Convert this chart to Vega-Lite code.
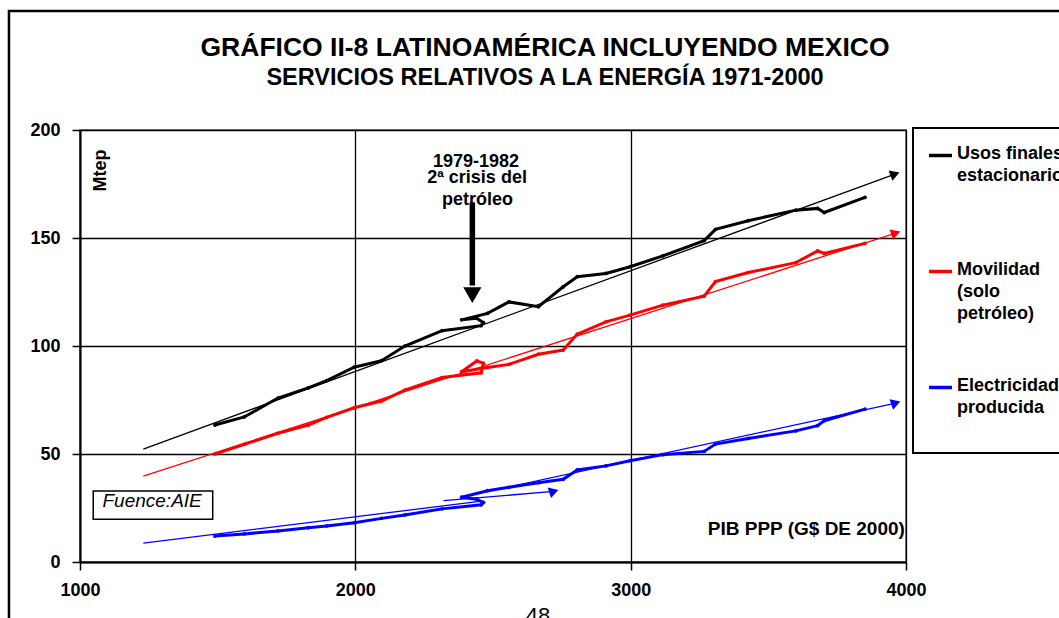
{
  "$schema": "https://vega.github.io/schema/vega-lite/v6.json",
  "width": 826,
  "height": 432,
  "autosize": {"type": "none"},
  "padding": {"left": 80, "top": 130, "right": 153, "bottom": 56},
  "background": "white",
  "title": {
    "text": "GRÁFICO II-8  LATINOAMÉRICA INCLUYENDO  MEXICO",
    "subtitle": "SERVICIOS RELATIVOS A LA ENERGÍA 1971-2000",
    "font": "Liberation Sans",
    "fontSize": 26.5,
    "fontWeight": "bold",
    "color": "black",
    "subtitleFont": "Liberation Sans",
    "subtitleFontSize": 23.5,
    "subtitleFontWeight": "bold",
    "subtitleColor": "black",
    "subtitlePadding": 5,
    "anchor": "middle",
    "dx": 52,
    "offset": -80
  },
  "config": {
    "font": "Liberation Sans",
    "view": {"stroke": "#808080", "strokeWidth": 2},
    "axis": {
      "labelFont": "Liberation Sans",
      "labelFontSize": 18,
      "labelFontWeight": "bold",
      "labelColor": "black",
      "labelFlush": false,
      "domainColor": "black",
      "domainWidth": 2,
      "tickColor": "black",
      "tickWidth": 1.5,
      "tickSize": 8,
      "gridColor": "black",
      "gridWidth": 1.3,
      "gridOpacity": 1
    }
  },
  "datasets": {
    "series": [
      {"s": "Usos finales estacionarios", "i": 1, "gdp": 1490, "mtep": 63.4},
      {"s": "Usos finales estacionarios", "i": 2, "gdp": 1597, "mtep": 67.2},
      {"s": "Usos finales estacionarios", "i": 3, "gdp": 1719, "mtep": 75.9},
      {"s": "Usos finales estacionarios", "i": 4, "gdp": 1829, "mtep": 80.6},
      {"s": "Usos finales estacionarios", "i": 5, "gdp": 1896, "mtep": 84.0},
      {"s": "Usos finales estacionarios", "i": 6, "gdp": 1996, "mtep": 90.2},
      {"s": "Usos finales estacionarios", "i": 7, "gdp": 2095, "mtep": 93.2},
      {"s": "Usos finales estacionarios", "i": 8, "gdp": 2180, "mtep": 100.0},
      {"s": "Usos finales estacionarios", "i": 9, "gdp": 2315, "mtep": 107.1},
      {"s": "Usos finales estacionarios", "i": 10, "gdp": 2457, "mtep": 109.4},
      {"s": "Usos finales estacionarios", "i": 11, "gdp": 2465, "mtep": 110.8},
      {"s": "Usos finales estacionarios", "i": 12, "gdp": 2441, "mtep": 112.8},
      {"s": "Usos finales estacionarios", "i": 13, "gdp": 2386, "mtep": 112.1},
      {"s": "Usos finales estacionarios", "i": 14, "gdp": 2480, "mtep": 115.1},
      {"s": "Usos finales estacionarios", "i": 15, "gdp": 2558, "mtep": 120.4},
      {"s": "Usos finales estacionarios", "i": 16, "gdp": 2665, "mtep": 118.2},
      {"s": "Usos finales estacionarios", "i": 17, "gdp": 2755, "mtep": 127.4},
      {"s": "Usos finales estacionarios", "i": 18, "gdp": 2806, "mtep": 132.1},
      {"s": "Usos finales estacionarios", "i": 19, "gdp": 2910, "mtep": 133.6},
      {"s": "Usos finales estacionarios", "i": 20, "gdp": 2998, "mtep": 136.7},
      {"s": "Usos finales estacionarios", "i": 21, "gdp": 3117, "mtep": 141.7},
      {"s": "Usos finales estacionarios", "i": 22, "gdp": 3267, "mtep": 148.8},
      {"s": "Usos finales estacionarios", "i": 23, "gdp": 3308, "mtep": 154.0},
      {"s": "Usos finales estacionarios", "i": 24, "gdp": 3427, "mtep": 158.0},
      {"s": "Usos finales estacionarios", "i": 25, "gdp": 3600, "mtep": 162.9},
      {"s": "Usos finales estacionarios", "i": 26, "gdp": 3679, "mtep": 163.7},
      {"s": "Usos finales estacionarios", "i": 27, "gdp": 3703, "mtep": 161.8},
      {"s": "Usos finales estacionarios", "i": 28, "gdp": 3851, "mtep": 168.8},
      {"s": "Movilidad (solo petróleo)", "i": 1, "gdp": 1490, "mtep": 50.0},
      {"s": "Movilidad (solo petróleo)", "i": 2, "gdp": 1597, "mtep": 54.5},
      {"s": "Movilidad (solo petróleo)", "i": 3, "gdp": 1719, "mtep": 59.6},
      {"s": "Movilidad (solo petróleo)", "i": 4, "gdp": 1829, "mtep": 63.4},
      {"s": "Movilidad (solo petróleo)", "i": 5, "gdp": 1896, "mtep": 67.0},
      {"s": "Movilidad (solo petróleo)", "i": 6, "gdp": 1996, "mtep": 71.4},
      {"s": "Movilidad (solo petróleo)", "i": 7, "gdp": 2095, "mtep": 74.5},
      {"s": "Movilidad (solo petróleo)", "i": 8, "gdp": 2180, "mtep": 79.6},
      {"s": "Movilidad (solo petróleo)", "i": 9, "gdp": 2315, "mtep": 85.4},
      {"s": "Movilidad (solo petróleo)", "i": 10, "gdp": 2457, "mtep": 87.6},
      {"s": "Movilidad (solo petróleo)", "i": 11, "gdp": 2465, "mtep": 92.0},
      {"s": "Movilidad (solo petróleo)", "i": 12, "gdp": 2441, "mtep": 93.1},
      {"s": "Movilidad (solo petróleo)", "i": 13, "gdp": 2386, "mtep": 88.1},
      {"s": "Movilidad (solo petróleo)", "i": 14, "gdp": 2480, "mtep": 90.0},
      {"s": "Movilidad (solo petróleo)", "i": 15, "gdp": 2558, "mtep": 91.5},
      {"s": "Movilidad (solo petróleo)", "i": 16, "gdp": 2665, "mtep": 96.2},
      {"s": "Movilidad (solo petróleo)", "i": 17, "gdp": 2755, "mtep": 98.1},
      {"s": "Movilidad (solo petróleo)", "i": 18, "gdp": 2806, "mtep": 105.5},
      {"s": "Movilidad (solo petróleo)", "i": 19, "gdp": 2910, "mtep": 111.2},
      {"s": "Movilidad (solo petróleo)", "i": 20, "gdp": 2998, "mtep": 114.3},
      {"s": "Movilidad (solo petróleo)", "i": 21, "gdp": 3117, "mtep": 118.9},
      {"s": "Movilidad (solo petróleo)", "i": 22, "gdp": 3267, "mtep": 123.1},
      {"s": "Movilidad (solo petróleo)", "i": 23, "gdp": 3308, "mtep": 129.8},
      {"s": "Movilidad (solo petróleo)", "i": 24, "gdp": 3427, "mtep": 134.0},
      {"s": "Movilidad (solo petróleo)", "i": 25, "gdp": 3600, "mtep": 138.6},
      {"s": "Movilidad (solo petróleo)", "i": 26, "gdp": 3679, "mtep": 144.0},
      {"s": "Movilidad (solo petróleo)", "i": 27, "gdp": 3703, "mtep": 142.9},
      {"s": "Movilidad (solo petróleo)", "i": 28, "gdp": 3851, "mtep": 147.5},
      {"s": "Electricidad producida", "i": 1, "gdp": 1490, "mtep": 12.0},
      {"s": "Electricidad producida", "i": 2, "gdp": 1597, "mtep": 13.0},
      {"s": "Electricidad producida", "i": 3, "gdp": 1719, "mtep": 14.4},
      {"s": "Electricidad producida", "i": 4, "gdp": 1829, "mtep": 15.9},
      {"s": "Electricidad producida", "i": 5, "gdp": 1896, "mtep": 16.7},
      {"s": "Electricidad producida", "i": 6, "gdp": 1996, "mtep": 18.2},
      {"s": "Electricidad producida", "i": 7, "gdp": 2095, "mtep": 20.2},
      {"s": "Electricidad producida", "i": 8, "gdp": 2180, "mtep": 21.8},
      {"s": "Electricidad producida", "i": 9, "gdp": 2315, "mtep": 24.6},
      {"s": "Electricidad producida", "i": 10, "gdp": 2457, "mtep": 26.5},
      {"s": "Electricidad producida", "i": 11, "gdp": 2465, "mtep": 27.5},
      {"s": "Electricidad producida", "i": 12, "gdp": 2441, "mtep": 29.1},
      {"s": "Electricidad producida", "i": 13, "gdp": 2386, "mtep": 30.0},
      {"s": "Electricidad producida", "i": 14, "gdp": 2480, "mtep": 33.0},
      {"s": "Electricidad producida", "i": 15, "gdp": 2558, "mtep": 34.6},
      {"s": "Electricidad producida", "i": 16, "gdp": 2665, "mtep": 36.7},
      {"s": "Electricidad producida", "i": 17, "gdp": 2755, "mtep": 38.3},
      {"s": "Electricidad producida", "i": 18, "gdp": 2806, "mtep": 42.6},
      {"s": "Electricidad producida", "i": 19, "gdp": 2910, "mtep": 44.5},
      {"s": "Electricidad producida", "i": 20, "gdp": 2998, "mtep": 46.9},
      {"s": "Electricidad producida", "i": 21, "gdp": 3117, "mtep": 49.7},
      {"s": "Electricidad producida", "i": 22, "gdp": 3267, "mtep": 51.2},
      {"s": "Electricidad producida", "i": 23, "gdp": 3308, "mtep": 54.6},
      {"s": "Electricidad producida", "i": 24, "gdp": 3427, "mtep": 57.2},
      {"s": "Electricidad producida", "i": 25, "gdp": 3600, "mtep": 60.7},
      {"s": "Electricidad producida", "i": 26, "gdp": 3679, "mtep": 63.1},
      {"s": "Electricidad producida", "i": 27, "gdp": 3703, "mtep": 65.4},
      {"s": "Electricidad producida", "i": 28, "gdp": 3851, "mtep": 70.8}
    ],
    "trends": [
      {"s": "Usos finales estacionarios", "seg": "k", "pos": "start", "gdp": 1230, "mtep": 52.3},
      {"s": "Usos finales estacionarios", "seg": "k", "pos": "end", "gdp": 3960, "mtep": 179.6},
      {"s": "Movilidad (solo petróleo)", "seg": "r", "pos": "start", "gdp": 1230, "mtep": 39.8},
      {"s": "Movilidad (solo petróleo)", "seg": "r", "pos": "end", "gdp": 3963, "mtep": 152.3},
      {"s": "Electricidad producida", "seg": "b", "pos": "start", "gdp": 2386, "mtep": 30.0},
      {"s": "Electricidad producida", "seg": "b", "pos": "end", "gdp": 3963, "mtep": 73.6},
      {"s": "Electricidad producida", "seg": "b1", "pos": "start", "gdp": 1230, "mtep": 8.7},
      {"s": "Electricidad producida", "seg": "b1", "pos": "stop", "gdp": 2465, "mtep": 28.3},
      {"s": "Electricidad producida", "seg": "b2", "pos": "start", "gdp": 2320, "mtep": 28.4},
      {"s": "Electricidad producida", "seg": "b2", "pos": "end", "gdp": 2721, "mtep": 32.7}
    ]
  },
  "encoding": {
    "x": {
      "field": "gdp",
      "type": "quantitative",
      "scale": {"domain": [1000, 4000], "nice": false, "zero": false},
      "axis": {"values": [1000, 2000, 3000, 4000], "title": null, "labelPadding": 11, "format": "d"}
    },
    "y": {
      "field": "mtep",
      "type": "quantitative",
      "scale": {"domain": [0, 200], "nice": false, "zero": false},
      "axis": {
        "values": [0, 50, 100, 150, 200],
        "title": "Mtep",
        "titleFont": "Liberation Sans",
        "titleFontSize": 18,
        "titleFontWeight": "bold",
        "titleColor": "black",
        "titleAngle": -90,
        "titleX": 25,
        "titleY": 40,
        "titleAlign": "center",
        "titleBaseline": "alphabetic",
        "labelPadding": 12
      }
    },
    "color": {
      "field": "s",
      "type": "nominal",
      "scale": {"domain": ["Usos finales estacionarios", "Movilidad (solo petróleo)", "Electricidad producida"], "range": ["#000000", "#ff0000", "#0000ff"]},
      "legend": {
        "orient": "none",
        "legendX": 833,
        "legendY": -2,
        "title": null,
        "strokeColor": "black",
        "fillColor": "white",
        "padding": 14,
        "symbolType": "stroke",
        "symbolSize": 529,
        "symbolStrokeWidth": 3.5,
        "labelFont": "Liberation Sans",
        "labelFontSize": 18,
        "labelFontWeight": "bold",
        "labelColor": "black",
        "labelBaseline": "alphabetic",
        "labelOffset": 3,
        "labelLimit": 400,
        "rowPadding": 51,
        "labelExpr": "datum.label == 'Usos finales estacionarios' ? ['Usos finales', 'estacionarios', ''] : datum.label == 'Movilidad (solo petróleo)' ? ['Movilidad', '(solo', 'petróleo)'] : ['Electricidad', 'producida', '']",
        "encode": {
          "labels": {"update": {"lineHeight": {"value": 22}, "dy": {"value": 3}}},
          "legend": {"update": {"strokeWidth": {"value": 2}}}
        }
      }
    }
  },
  "layer": [
    {
      "data": {"values": [{"gdp": 742, "gdp2": 6000, "mtep": 255.1, "mtep2": -60}]},
      "mark": {"type": "rect", "fill": null, "stroke": "black", "strokeWidth": 2.5, "clip": false},
      "encoding": {"x2": {"field": "gdp2"}, "y2": {"field": "mtep2"}, "color": null}
    },
    {
      "data": {"name": "series"},
      "mark": {"type": "line", "strokeWidth": 3},
      "encoding": {"order": {"field": "i", "type": "quantitative"}}
    },
    {
      "data": {"name": "trends"},
      "mark": {"type": "line", "strokeWidth": 1.3},
      "encoding": {"detail": {"field": "seg"}}
    },
    {
      "data": {"name": "trends"},
      "transform": [{"filter": "datum.pos == 'end'"}],
      "mark": {"type": "point", "shape": "triangle-right", "filled": true, "opacity": 1, "size": 120},
      "encoding": {
        "angle": {"field": "seg", "type": "nominal", "scale": {"domain": ["k", "r", "b", "b2"], "range": [-20, -18, -12, -5]}, "legend": null}
      }
    },
    {
      "data": {"name": "series"},
      "mark": {"type": "point", "filled": true, "opacity": 1, "size": 14}
    },
    {
      "data": {"values": [{"gdp": 2425, "mtep": 166.5, "mtep2": 128}]},
      "mark": {"type": "rule", "color": "black", "strokeWidth": 5.5},
      "encoding": {"y2": {"field": "mtep2"}, "color": null}
    },
    {
      "data": {"values": [{"gdp": 2425, "mtep": 123.6}]},
      "mark": {"type": "point", "shape": "triangle-down", "filled": true, "color": "black", "opacity": 1, "size": 330},
      "encoding": {"color": null}
    },
    {
      "data": {"values": [
        {"t": "1979-1982", "gdp": 2438, "mtep": 183.0},
        {"t": "2ª crisis del", "gdp": 2442, "mtep": 175.3},
        {"t": "petróleo", "gdp": 2444, "mtep": 165.3}
      ]},
      "mark": {"type": "text", "font": "Liberation Sans", "fontSize": 18, "fontWeight": "bold", "color": "black", "align": "center", "baseline": "alphabetic"},
      "encoding": {"text": {"field": "t"}, "color": null}
    },
    {
      "data": {"values": [{"gdp": 1048, "gdp2": 1482, "mtep": 32.9, "mtep2": 19.8}]},
      "mark": {"type": "rect", "fill": "white", "stroke": "black", "strokeWidth": 1.5},
      "encoding": {"x2": {"field": "gdp2"}, "y2": {"field": "mtep2"}, "color": null}
    },
    {
      "data": {"values": [{"t": "Fuence:AIE", "gdp": 1262, "mtep": 25.4}]},
      "mark": {"type": "text", "font": "Liberation Sans", "fontSize": 19, "fontStyle": "italic", "color": "black", "align": "center", "baseline": "alphabetic"},
      "encoding": {"text": {"field": "t"}, "color": null}
    },
    {
      "data": {"values": [{"t": "PIB PPP (G$ DE 2000)", "gdp": 3996, "mtep": 12.5}]},
      "mark": {"type": "text", "font": "Liberation Sans", "fontSize": 19, "fontWeight": "bold", "color": "black", "align": "right", "baseline": "alphabetic"},
      "encoding": {"text": {"field": "t"}, "color": null}
    },
    {
      "data": {"values": [{"t": "48", "gdp": 2663, "mtep": -20.5}]},
      "mark": {"type": "text", "font": "Liberation Sans", "fontSize": 22, "color": "black", "align": "center", "baseline": "top", "clip": false},
      "encoding": {"text": {"field": "t"}, "color": null}
    }
  ]
}
